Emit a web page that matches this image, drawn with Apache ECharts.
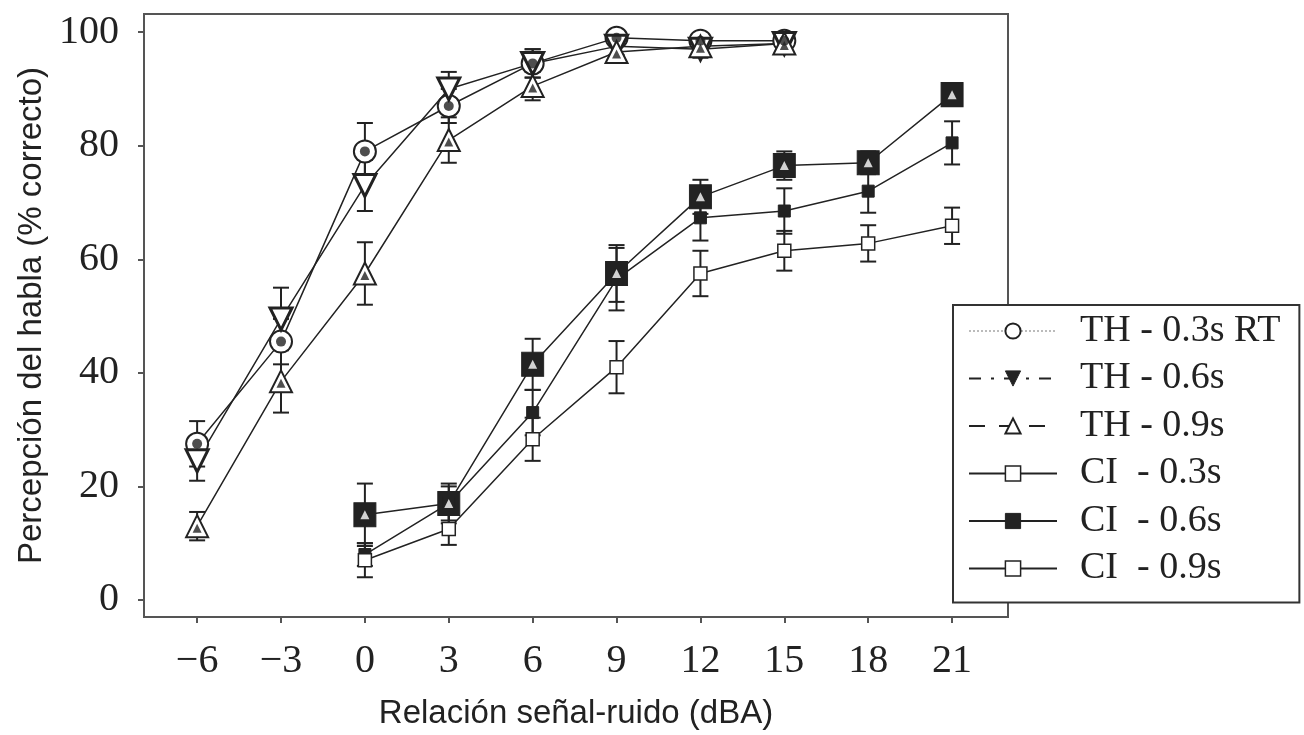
<!DOCTYPE html>
<html>
<head>
<meta charset="utf-8">
<script src="https://cdn.jsdelivr.net/npm/echarts@6/dist/echarts.min.js"></script>
<style>
  html, body { margin: 0; background: #fff; }
  #chart { width: 1304px; height: 735px; }
</style>
</head>
<body>
<div id="chart"></div>
<script>
// SNR levels (dBA)
const snrTH = [-6, -3, 0, 3, 6, 9, 12, 15]
const snrCI = [0, 3, 6, 9, 12, 15, 18, 21]
const xTicks = [-6, -3, 0, 3, 6, 9, 12, 15, 18, 21]
const yTicks = [0, 20, 40, 60, 80, 100]

// normal hearing (TH)
const th03 = [27.5, 45.5, 79, 87, 94.5, 99, 98.5, 98.5]
const th03Err = [4, 4, 5, 3, 2.5, 1, 1, 1]
const th06 = [24.5, 49.5, 73, 90, 94.5, 97.5, 97, 98]
const th06Err = [3.5, 5.5, 4.5, 3, 2.5, 1.5, 1.5, 1]
const th09 = [13, 38.5, 57.5, 81, 90.5, 96.5, 97.5, 98]
const th09Err = [2.5, 5.5, 5.5, 4, 2.5, 1.5, 1, 1]

// cochlear implant (CI)
const ci03 = [15, 17, 41.5, 57.5, 71, 76.5, 77, 89]
const ci03Err = [5.5, 3.5, 4.5, 5, 3, 2.5, 2, 1]
const ci06 = [8, 17, 33, 56.5, 67.3, 68.5, 72, 80.5]
const ci06Err = [2, 3, 4, 5.5, 4, 4, 3.8, 3.8]
const ci09 = [7, 12.5, 28.3, 41, 57.5, 61.5, 62.8, 65.9]
const ci09Err = [3, 2.8, 3.8, 4.6, 4, 3.5, 3.2, 3.2]

const names = ['TH - 0.3s RT', 'TH - 0.6s', 'TH - 0.9s', 'CI  - 0.3s', 'CI  - 0.6s', 'CI  - 0.9s']

const ink = '#222'
const pair = (xs, ys) => xs.map((x, i) => [x, ys[i]])

const errorBars = (xs, ys, errs) => ({
  type: 'custom',
  z: 1,
  silent: true,
  data: xs.map((x, i) => [x, ys[i] - errs[i], ys[i] + errs[i]]),
  encode: { x: 0, y: [1, 2] },
  renderItem: (params, api) => {
    const top = api.coord([api.value(0), api.value(2)])
    const bot = api.coord([api.value(0), api.value(1)])
    const w = 8
    const st = { stroke: ink, lineWidth: 2 }
    return {
      type: 'group',
      children: [
        { type: 'line', shape: { x1: top[0], y1: top[1], x2: bot[0], y2: bot[1] }, style: st },
        { type: 'line', shape: { x1: top[0] - w, y1: top[1], x2: top[0] + w, y2: top[1] }, style: st },
        { type: 'line', shape: { x1: bot[0] - w, y1: bot[1], x2: bot[0] + w, y2: bot[1] }, style: st }
      ]
    }
  }
})

const lineSeries = (name, xs, ys, symbol, size, itemStyle, extra) => Object.assign({
  name,
  type: 'line',
  z: 2,
  data: pair(xs, ys),
  symbol,
  symbolSize: size,
  lineStyle: { color: ink, width: 1.5 },
  itemStyle,
  emphasis: { disabled: true }
}, extra || {})

const innerMark = (xs, ys, symbol, size, color, extra) => Object.assign({
  type: 'scatter',
  z: 3,
  silent: true,
  data: pair(xs, ys),
  symbol,
  symbolSize: size,
  itemStyle: { color }
}, extra || {})

const chart = echarts.init(document.getElementById('chart'))

chart.setOption({
  backgroundColor: '#fff',
  animation: false,
  grid: {
    show: true,
    left: 144, right: 296, top: 14, bottom: 118,
    borderColor: '#555', borderWidth: 2
  },
  xAxis: {
    type: 'value',
    min: -7.9, max: 23,
    axisLine: { show: false, onZero: false },
    splitLine: { show: false },
    axisTick: { show: true, customValues: xTicks, length: 6, lineStyle: { color: '#555', width: 2 } },
    axisLabel: {
      customValues: xTicks,
      margin: 24,
      fontFamily: 'Liberation Serif', fontSize: 40, color: ink,
      formatter: v => v < 0 ? '\u2212' + (-v) : String(v)
    },
    name: 'Relación señal-ruido (dBA)',
    nameLocation: 'middle',
    nameGap: 80,
    nameTextStyle: { fontFamily: 'Liberation Sans', fontSize: 33, color: ink }
  },
  yAxis: {
    type: 'value',
    min: -3, max: 103.2,
    axisLine: { show: false, onZero: false },
    splitLine: { show: false },
    axisTick: { show: true, customValues: yTicks, length: 6, lineStyle: { color: '#555', width: 2 } },
    axisLabel: {
      customValues: yTicks,
      margin: 25,
      fontFamily: 'Liberation Serif', fontSize: 40, color: ink
    },
    name: 'Percepción del habla (% correcto)',
    nameLocation: 'middle',
    nameGap: 96,
    nameTextStyle: { fontFamily: 'Liberation Sans', fontSize: 33, color: ink }
  },
  legend: {
    orient: 'vertical',
    left: 953, top: 305,
    padding: [6, 19, 14, 15],
    itemWidth: 88, itemHeight: 19, itemGap: 7.5,
    borderColor: '#333', borderWidth: 2,
    backgroundColor: '#fff',
    selectedMode: false,
    textStyle: { fontFamily: 'Liberation Serif', fontSize: 38, color: ink, lineHeight: 40, padding: [0, 0, 0, 18] },
    data: [
      { name: names[0], lineStyle: { type: 'dotted', color: '#bbb', width: 2 }, itemStyle: { color: '#fff', borderColor: ink, borderWidth: 2 } },
      { name: names[1], lineStyle: { type: [12, 10, 3, 10], color: ink, width: 2 }, itemStyle: { color: ink, borderColor: ink, borderWidth: 1 } },
      { name: names[2], lineStyle: { type: [16, 14], color: ink, width: 2 }, itemStyle: { color: '#fff', borderColor: ink, borderWidth: 2 } },
      { name: names[3], lineStyle: { type: 'solid', color: ink, width: 2 }, itemStyle: { color: '#fff', borderColor: ink, borderWidth: 1.5 } },
      { name: names[4], lineStyle: { type: 'solid', color: ink, width: 2 }, itemStyle: { color: ink, borderColor: ink, borderWidth: 1 } },
      { name: names[5], lineStyle: { type: 'solid', color: ink, width: 2 }, itemStyle: { color: '#fff', borderColor: ink, borderWidth: 1.5 } }
    ]
  },
  series: [
    errorBars(snrTH, th03, th03Err),
    errorBars(snrTH, th06, th06Err),
    errorBars(snrTH, th09, th09Err),
    errorBars(snrCI, ci03, ci03Err),
    errorBars(snrCI, ci06, ci06Err),
    errorBars(snrCI, ci09, ci09Err),

    lineSeries(names[0], snrTH, th03, 'circle', 22, { color: '#fff', borderColor: ink, borderWidth: 2 }),
    lineSeries(names[1], snrTH, th06, 'triangle', 22, { color: '#fff', borderColor: ink, borderWidth: 3 }, { symbolRotate: 180 }),
    lineSeries(names[2], snrTH, th09, 'triangle', 22, { color: '#fff', borderColor: ink, borderWidth: 2 }),
    lineSeries(names[3], snrCI, ci03, 'rect', [22, 24], { color: ink, borderColor: ink, borderWidth: 1 }),
    lineSeries(names[4], snrCI, ci06, 'rect', 12, { color: ink, borderColor: ink, borderWidth: 1 }),
    lineSeries(names[5], snrCI, ci09, 'rect', 13, { color: '#fff', borderColor: ink, borderWidth: 1.5 }),

    innerMark(snrTH, th03, 'circle', 10, ink),
    innerMark(snrTH, th09, 'triangle', 9, ink, { symbolOffset: [0, 2] }),
    innerMark(snrCI, ci03, 'triangle', 9, '#fff')
  ]
})
</script>
</body>
</html>
